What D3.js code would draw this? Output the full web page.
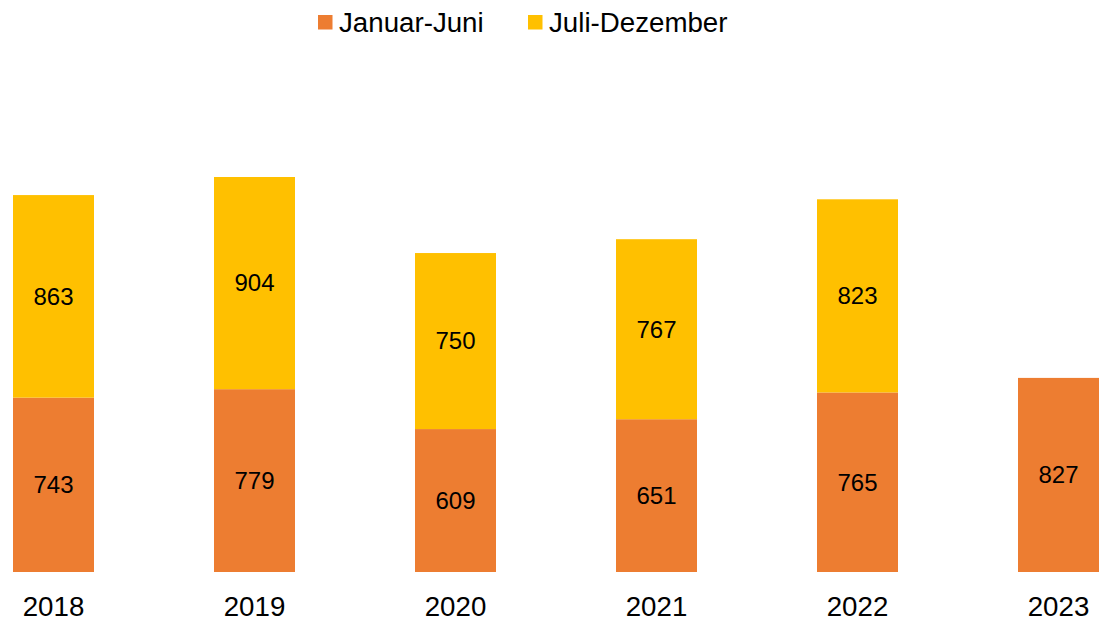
<!DOCTYPE html>
<html>
<head>
<meta charset="utf-8">
<script src="https://cdn.jsdelivr.net/npm/d3@7"></script>
<style>
  body { margin: 0; background: #fff; }
  text { font-family: Arial, "Liberation Sans", sans-serif; fill: #000; }
</style>
</head>
<body>
<div id="main"></div>
<script>
const ctx = {
    w: 1099,
    h: 623
};

// data
const years = ["2018", "2019", "2020", "2021", "2022", "2023"];
const janJun = [743, 779, 609, 651, 765, 827];
const julDez = [863, 904, 750, 767, 823, null];
const seriesNames = ["Januar-Juni", "Juli-Dezember"];
const seriesColors = ["#ED7D31", "#FFC000"];

function createViz() {
    const svg = d3.select("#main").append("svg")
        .attr("width", ctx.w)
        .attr("height", ctx.h);

    const x = d3.scaleBand()
        .domain(years)
        .range([-47, 1159])
        .paddingInner(0.597)
        .paddingOuter(0.2985);

    const y = d3.scaleLinear()
        .domain([0, 2000])
        .range([572, 102.6]);

    // stacked segments
    const rows = years.map((yr, i) => ({ year: yr, a: janJun[i], b: julDez[i] }));
    const segs = [];
    rows.forEach(r => {
        segs.push({ year: r.year, y0: 0, y1: r.a, v: r.a, s: 0 });
        if (r.b != null) segs.push({ year: r.year, y0: r.a, y1: r.a + r.b, v: r.b, s: 1 });
    });

    const g = svg.append("g");
    g.selectAll("rect")
        .data(segs)
        .enter().append("rect")
        .attr("x", d => x(d.year))
        .attr("width", x.bandwidth())
        .attr("y", d => y(d.y1))
        .attr("height", d => y(d.y0) - y(d.y1))
        .attr("fill", d => seriesColors[d.s]);

    g.selectAll("text.val")
        .data(segs)
        .enter().append("text")
        .attr("class", "val")
        .attr("x", d => x(d.year) + x.bandwidth() / 2)
        .attr("y", d => (y(d.y0) + y(d.y1)) / 2)
        .attr("dy", "0.35em")
        .attr("text-anchor", "middle")
        .style("font-size", "24px")
        .text(d => d.v);

    // x axis labels
    const xAxis = svg.append("g")
        .attr("transform", "translate(0,572)")
        .call(d3.axisBottom(x).tickSize(0).tickPadding(0));
    xAxis.select(".domain").remove();
    xAxis.selectAll("text")
        .attr("y", 44)
        .attr("dy", 0)
        .style("font-size", "27.7px")
        .style("font-family", "Arial, 'Liberation Sans', sans-serif")
        .attr("fill", "#000");

    // legend
    const legX = [318, 528];
    const leg = svg.append("g");
    seriesNames.forEach((name, i) => {
        leg.append("rect")
            .attr("x", legX[i]).attr("y", 15)
            .attr("width", 14.5).attr("height", 14.5)
            .attr("fill", seriesColors[i]);
        leg.append("text")
            .attr("x", legX[i] + 21).attr("y", 32)
            .style("font-size", "27.7px")
            .text(name);
    });
}

createViz();
</script>
</body>
</html>
